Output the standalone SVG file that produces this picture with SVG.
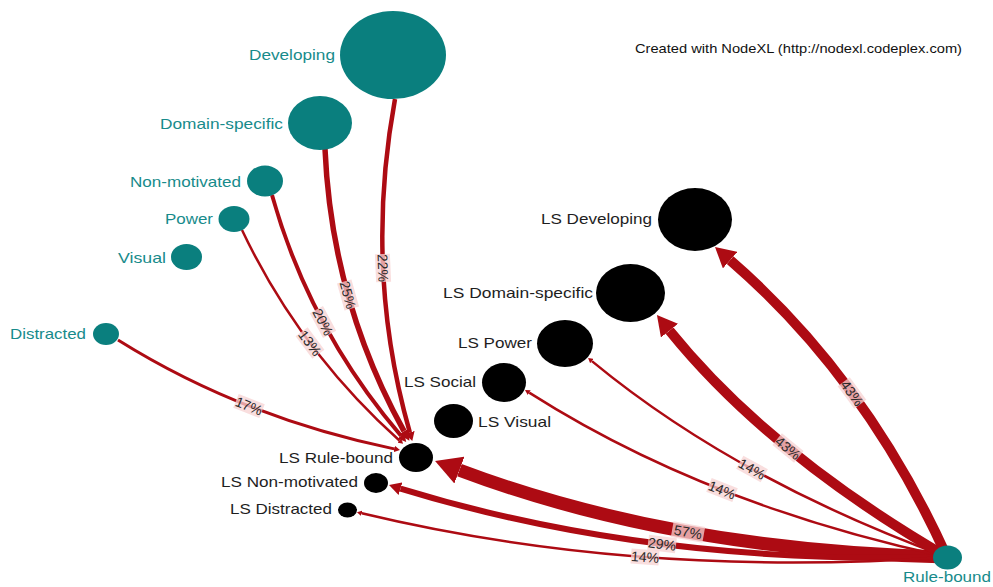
<svg xmlns="http://www.w3.org/2000/svg" width="993" height="587" viewBox="0 0 993 587">
  <style>
    .edge { fill: none; stroke: #ad0b13; stroke-linecap: butt; marker-end: url(#arr); }
    .src { fill: #0a7f7e; }
    .dst { fill: #000; }
    .srcLabel { font-family: "Liberation Sans", Arial, sans-serif; font-size: 15px; fill: #178b8b; }
    .dstLabel { font-family: "Liberation Sans", Arial, sans-serif; font-size: 15px; fill: #1e1e1e; }
    .pct rect { fill: #f7d3d3; opacity: 0.75; }
    .pct text { font-family: "Liberation Sans", Arial, sans-serif; font-size: 14px; fill: #2a2a2a; text-anchor: middle; }
    .credit { font-family: "Liberation Sans", Arial, sans-serif; font-size: 13.5px; fill: #111; }
  </style>
  <defs>
    <marker id="arr" viewBox="0 0 10 10" refX="0" refY="5" markerWidth="2" markerHeight="2.2" orient="auto" markerUnits="strokeWidth" preserveAspectRatio="none">
      <path d="M0,0 L10,5 L0,10 z" fill="#ad0b13"/>
    </marker>
  </defs>

  <rect width="993" height="587" fill="#fff"/>

  <text class="credit" x="635" y="53" textLength="327" lengthAdjust="spacingAndGlyphs">Created with NodeXL (http://nodexl.codeplex.com)</text>

  <!-- connectors -->
  <g id="edges">
    <path class="edge" stroke-width="4.5" d="M395,99 Q363.6,270.4 409.8,432.3"/>
    <path class="edge" stroke-width="5.5" d="M325,149 Q331.5,299.9 404,431.2"/>
    <path class="edge" stroke-width="4" d="M272,195 Q309.5,328.6 401,435.8"/>
    <path class="edge" stroke-width="2.5" d="M242,230 Q299.3,350.8 399.4,440.5"/>
    <path class="edge" stroke-width="3" d="M118,340 Q242,417.6 394.1,448.9"/>
    <path class="edge" stroke-width="13" d="M947,557 Q673.8,550.8 459.4,470.1"/>
    <path class="edge" stroke-width="6" d="M947,557 Q651,565.5 400.5,488.6"/>
    <path class="edge" stroke-width="2.5" d="M947,557 Q635.5,579 361.8,513.3"/>
    <path class="edge" stroke-width="2.5" d="M947,557 Q705.9,505.2 529.2,392.6"/>
    <path class="edge" stroke-width="2.5" d="M947,557 Q734.6,479 591.9,361.1"/>
    <path class="edge" stroke-width="10" d="M947,557 Q768.4,453 669.5,330.6"/>
    <path class="edge" stroke-width="10" d="M947,557 Q866.2,378.1 730.1,260.1"/>

    <g class="pct" transform="translate(383,268) rotate(87.5)"><rect x="-14" y="-7.5" width="28" height="15"/><text y="5">22%</text></g>
    <g class="pct" transform="translate(348,295) rotate(74.4)"><rect x="-14" y="-7.5" width="28" height="15"/><text y="5">25%</text></g>
    <g class="pct" transform="translate(323,322) rotate(61.8)"><rect x="-14" y="-7.5" width="28" height="15"/><text y="5">20%</text></g>
    <g class="pct" transform="translate(310,343) rotate(53.2)"><rect x="-14" y="-7.5" width="28" height="15"/><text y="5">13%</text></g>
    <g class="pct" transform="translate(249,406) rotate(21.5)"><rect x="-14" y="-7.5" width="28" height="15"/><text y="5">17%</text></g>
    <g class="pct" transform="translate(688,532) rotate(10.1)"><rect x="-16" y="-8" width="32" height="16"/><text y="5">57%</text></g>
    <g class="pct" transform="translate(662,544) rotate(7.2)"><rect x="-14" y="-7.5" width="28" height="15"/><text y="5">29%</text></g>
    <g class="pct" transform="translate(645,557) rotate(4.3)"><rect x="-14" y="-7.5" width="28" height="15"/><text y="5">14%</text></g>
    <g class="pct" transform="translate(722,490) rotate(21.5)"><rect x="-14" y="-7.5" width="28" height="15"/><text y="5">14%</text></g>
    <g class="pct" transform="translate(752,469) rotate(28.9)"><rect x="-14" y="-7.5" width="28" height="15"/><text y="5">14%</text></g>
    <g class="pct" transform="translate(788,448) rotate(39.3)"><rect x="-14" y="-7.5" width="28" height="15"/><text y="5">43%</text></g>
    <g class="pct" transform="translate(852,393) rotate(53.8)"><rect x="-14" y="-7.5" width="28" height="15"/><text y="5">43%</text></g>
  </g>

  <!-- source nodes -->
  <g id="developing"><ellipse class="src" cx="393" cy="55" rx="53" ry="44"/><text class="srcLabel" x="249" y="60" textLength="86" lengthAdjust="spacingAndGlyphs">Developing</text></g>
  <g id="domain-specific"><ellipse class="src" cx="320" cy="123" rx="32" ry="27"/><text class="srcLabel" x="160" y="129" textLength="123" lengthAdjust="spacingAndGlyphs">Domain-specific</text></g>
  <g id="non-motivated"><ellipse class="src" cx="265" cy="181" rx="18" ry="15.5"/><text class="srcLabel" x="130" y="187" textLength="111" lengthAdjust="spacingAndGlyphs">Non-motivated</text></g>
  <g id="power"><ellipse class="src" cx="234" cy="219" rx="15.5" ry="13"/><text class="srcLabel" x="165" y="224" textLength="48" lengthAdjust="spacingAndGlyphs">Power</text></g>
  <g id="visual"><ellipse class="src" cx="186.5" cy="257" rx="15.5" ry="13"/><text class="srcLabel" x="118" y="263" textLength="48" lengthAdjust="spacingAndGlyphs">Visual</text></g>
  <g id="distracted"><ellipse class="src" cx="106" cy="334" rx="13" ry="11"/><text class="srcLabel" x="10" y="339" textLength="76" lengthAdjust="spacingAndGlyphs">Distracted</text></g>
  <g id="rule-bound"><ellipse class="src" cx="947.5" cy="557.5" rx="14.5" ry="12"/><text class="srcLabel" x="903" y="582" textLength="88" lengthAdjust="spacingAndGlyphs">Rule-bound</text></g>

  <!-- target nodes -->
  <g id="ls-developing"><ellipse class="dst" cx="695" cy="219.5" rx="37" ry="31.5"/><text class="dstLabel" x="541" y="224" textLength="111" lengthAdjust="spacingAndGlyphs">LS Developing</text></g>
  <g id="ls-domain-specific"><ellipse class="dst" cx="630.5" cy="293" rx="34.5" ry="29"/><text class="dstLabel" x="443" y="298" textLength="150" lengthAdjust="spacingAndGlyphs">LS Domain-specific</text></g>
  <g id="ls-power"><ellipse class="dst" cx="565" cy="343.5" rx="28" ry="23.5"/><text class="dstLabel" x="458" y="348" textLength="74" lengthAdjust="spacingAndGlyphs">LS Power</text></g>
  <g id="ls-social"><ellipse class="dst" cx="504" cy="382.5" rx="22" ry="19.5"/><text class="dstLabel" x="404" y="387" textLength="72" lengthAdjust="spacingAndGlyphs">LS Social</text></g>
  <g id="ls-visual"><ellipse class="dst" cx="453.5" cy="421" rx="19.5" ry="17"/><text class="dstLabel" x="478" y="427" textLength="73" lengthAdjust="spacingAndGlyphs">LS Visual</text></g>
  <g id="ls-rule-bound"><ellipse class="dst" cx="416" cy="457.5" rx="17" ry="14.5"/><text class="dstLabel" x="279" y="463" textLength="114" lengthAdjust="spacingAndGlyphs">LS Rule-bound</text></g>
  <g id="ls-non-motivated"><ellipse class="dst" cx="376" cy="483" rx="12" ry="10"/><text class="dstLabel" x="221" y="487" textLength="137" lengthAdjust="spacingAndGlyphs">LS Non-motivated</text></g>
  <g id="ls-distracted"><ellipse class="dst" cx="347.5" cy="510" rx="9.5" ry="7.5"/><text class="dstLabel" x="230" y="514" textLength="102" lengthAdjust="spacingAndGlyphs">LS Distracted</text></g>
</svg>
